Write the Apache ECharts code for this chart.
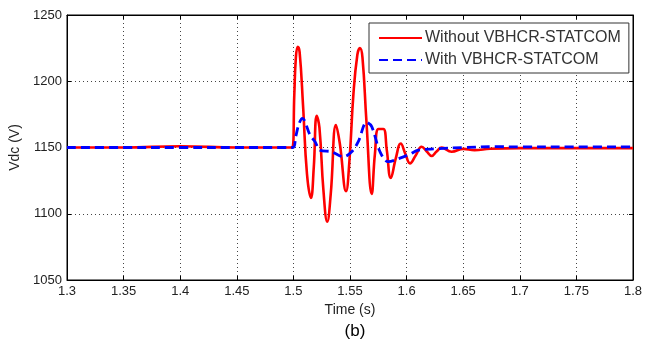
<!DOCTYPE html>
<html>
<head>
<meta charset="utf-8">
<script src="https://cdn.jsdelivr.net/npm/echarts@6/dist/echarts.min.js"></script>
<style>
  html, body { margin: 0; padding: 0; background: #fff; }
  #chart { width: 654px; height: 345px; }
</style>
</head>
<body>
<div id="chart"></div>
<script>
// axis ticks
const xTicks = [1.3, 1.35, 1.4, 1.45, 1.5, 1.55, 1.6, 1.65, 1.7, 1.75, 1.8]
const yTicks = [1050, 1100, 1150, 1200, 1250]

// Without VBHCR-STATCOM
const tRed = [1.30, 1.35, 1.40, 1.45, 1.499, 1.5008, 1.5022, 1.5038, 1.5055, 1.5085, 1.512, 1.5155,
  1.518, 1.5206, 1.523, 1.5265, 1.5299, 1.533, 1.5376, 1.541, 1.5465, 1.5495, 1.553, 1.5565, 1.5588,
  1.561, 1.5645, 1.5692, 1.572, 1.5752, 1.5794, 1.5825, 1.586, 1.5905, 1.5948, 1.599, 1.603, 1.608,
  1.6133, 1.6178, 1.6222, 1.6265, 1.631, 1.6398, 1.6501, 1.66, 1.6737, 1.70, 1.75, 1.80]
const vRed = [1150, 1150, 1151, 1150, 1150, 1190, 1218, 1226, 1222, 1182, 1130, 1112,
  1135, 1174, 1165, 1118, 1094, 1115, 1167, 1153, 1117, 1140, 1190, 1220, 1225,
  1218, 1170, 1115, 1145, 1164, 1164, 1148, 1127, 1142, 1153, 1145, 1138, 1144,
  1150.6, 1147, 1143.6, 1147, 1149.9, 1146.8, 1149, 1148, 1149, 1149.5, 1149.5, 1149.5]

// With VBHCR-STATCOM
const tBlue = [1.30, 1.35, 1.40, 1.45, 1.4995, 1.502, 1.505, 1.5079, 1.5147, 1.5191, 1.5235, 1.5338,
  1.5441, 1.5515, 1.5573, 1.5647, 1.5692, 1.5765, 1.5838, 1.5942, 1.603, 1.6103, 1.6266, 1.65, 1.6796,
  1.70, 1.75, 1.80]
const vBlue = [1150, 1150, 1150, 1150, 1150, 1158, 1168, 1172, 1159.4, 1154.4, 1148, 1146.8,
  1143, 1146.8, 1154.4, 1169, 1165.7, 1146.8, 1139.3, 1142, 1145, 1148, 1149, 1150, 1150.6,
  1150.5, 1150.5, 1150.5]

const pairs = (t, v) => t.map((x, i) => [x, v[i]])
const fmt = (v) => String(parseFloat(v.toFixed(2)))

const font = 'Liberation Sans, Arial, sans-serif'
const gridLine = { show: true, lineStyle: { color: '#444', type: [1, 3], width: 1 } }
const tick = { show: true, inside: true, length: 4, lineStyle: { color: '#000' } }

const chart = echarts.init(document.getElementById('chart'))
chart.setOption({
  animation: false,
  backgroundColor: '#fff',
  title: {
    text: '(b)',
    left: 350,
    textAlign: 'center',
    top: 318,
    textStyle: { fontFamily: font, fontSize: 17, fontWeight: 'normal', color: '#000' },
  },
  grid: {
    left: 67,
    right: 21,
    top: 15,
    bottom: 65,
    show: true,
    borderColor: '#000',
    borderWidth: 1,
  },
  legend: {
    left: 369,
    top: 23,
    orient: 'vertical',
    padding: [7, 8, 5, 9],
    itemGap: 6,
    itemWidth: 43,
    itemHeight: 14,
    backgroundColor: '#fff',
    borderColor: '#333',
    borderWidth: 1,
    itemStyle: { opacity: 0 },
    textStyle: { fontFamily: font, fontSize: 16, color: '#333', lineHeight: 14, padding: [0, 0, 0, -2] },
    data: ['Without VBHCR-STATCOM', 'With VBHCR-STATCOM'],
  },
  xAxis: [
    {
      type: 'value',
      min: xTicks[0],
      max: xTicks[xTicks.length - 1],
      interval: 0.05,
      name: 'Time (s)',
      nameLocation: 'middle',
      nameGap: 23,
      nameTextStyle: { fontFamily: font, fontSize: 14, color: '#222' },
      axisLine: { lineStyle: { color: '#000' } },
      axisTick: tick,
      axisLabel: { fontFamily: font, fontSize: 13, color: '#222', margin: 5, formatter: fmt },
      splitLine: gridLine,
    },
    {
      type: 'value',
      position: 'top',
      min: xTicks[0],
      max: xTicks[xTicks.length - 1],
      interval: 0.05,
      axisLine: { lineStyle: { color: '#000' } },
      axisTick: tick,
      axisLabel: { show: false },
      splitLine: { show: false },
    },
  ],
  yAxis: [
    {
      type: 'value',
      min: yTicks[0],
      max: yTicks[yTicks.length - 1],
      interval: 50,
      name: 'Vdc (V)',
      nameLocation: 'middle',
      nameGap: 44,
      nameTextStyle: { fontFamily: font, fontSize: 14, color: '#222' },
      axisLine: { show: true, lineStyle: { color: '#000' } },
      axisTick: tick,
      axisLabel: { fontFamily: font, fontSize: 13, color: '#222', margin: 5, formatter: (v) => String(v) },
      splitLine: gridLine,
    },
    {
      type: 'value',
      position: 'right',
      min: yTicks[0],
      max: yTicks[yTicks.length - 1],
      interval: 50,
      axisLine: { show: true, lineStyle: { color: '#000' } },
      axisTick: tick,
      axisLabel: { show: false },
      splitLine: { show: false },
    },
  ],
  series: [
    {
      name: 'Without VBHCR-STATCOM',
      type: 'line',
      smooth: 0.45,
      showSymbol: false,
      symbol: 'none',
      data: pairs(tRed, vRed),
      lineStyle: { color: '#ff0000', width: 2.6 },
      itemStyle: { color: '#ff0000' },
    },
    {
      name: 'With VBHCR-STATCOM',
      type: 'line',
      smooth: 0.35,
      showSymbol: false,
      symbol: 'none',
      data: pairs(tBlue, vBlue),
      lineStyle: { color: '#0000ff', width: 2.8, type: [9, 5] },
      itemStyle: { color: '#0000ff' },
    },
  ],
})
</script>
</body>
</html>
